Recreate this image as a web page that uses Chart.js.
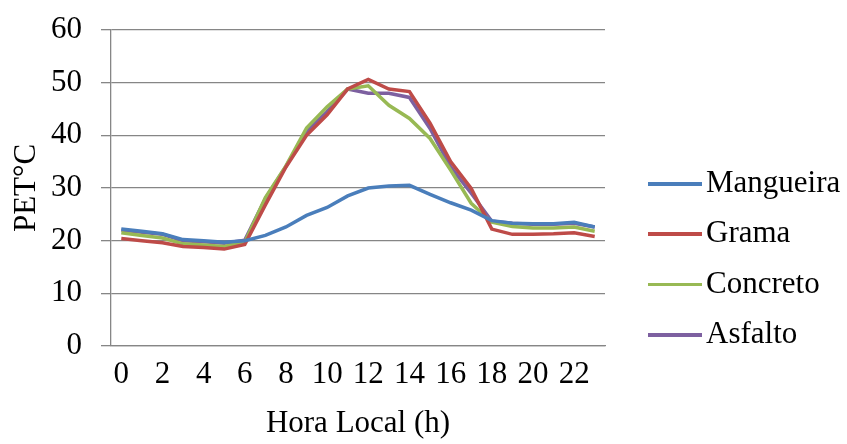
<!DOCTYPE html>
<html>
<head>
<meta charset="utf-8">
<script src="https://cdn.jsdelivr.net/npm/chart.js@4/dist/chart.umd.min.js"></script>
<style>
    html, body { margin: 0; padding: 0; background: #fff; }
    .wrap { position: relative; width: 847px; height: 444px; }
    .legend { position: absolute; left: 648px; top: 157px; font-family: "Liberation Serif", serif; font-size: 31px; color: #000; }
    .legend div { height: 50.3px; line-height: 50px; white-space: nowrap; }
    .legend i { display: inline-block; width: 54px; height: 3.5px; vertical-align: middle; margin-right: 4px; position: relative; top: -1px; }
</style>
</head>
<body>
<div class="wrap">
    <canvas id="chart" width="847" height="444"></canvas>
    <div class="legend"></div>
</div>
<script>
const hours = [0, 1, 2, 3, 4, 5, 6, 7, 8, 9, 10, 11, 12, 13, 14, 15, 16, 17, 18, 19, 20, 21, 22, 23];
const seriesNames = ["Mangueira", "Grama", "Concreto", "Asfalto"];
const colors = ["#4A7EBB", "#BE4B48", "#98B954", "#7D60A0"];

const mangueira = [22.2, 21.8, 21.3, 20.2, 20.0, 19.7, 20.0, 21.0, 22.6, 24.8, 26.3, 28.5, 30.0, 30.4, 30.5, 28.8, 27.2, 25.8, 23.8, 23.3, 23.2, 23.2, 23.5, 22.6];
const grama = [20.4, 20.0, 19.6, 18.9, 18.7, 18.4, 19.3, 26.8, 34.0, 40.0, 43.9, 48.8, 50.6, 48.8, 48.3, 42.3, 35.0, 29.9, 22.2, 21.2, 21.2, 21.3, 21.5, 20.8];
const concreto = [21.5, 21.0, 20.5, 19.4, 19.2, 18.9, 19.7, 28.2, 34.2, 41.4, 45.4, 48.8, 49.4, 45.7, 43.2, 39.4, 33.4, 27.1, 23.5, 22.7, 22.4, 22.4, 22.6, 21.8];
const asfalto = [22.0, 21.6, 21.2, 20.0, 19.8, 19.5, 20.1, 28.0, 34.1, 40.7, 44.5, 48.8, 48.0, 48.0, 47.2, 41.3, 34.0, 29.0, 23.7, 23.3, 23.1, 23.1, 23.3, 22.6];

const yMin = 0;
const yMax = 60;
const yStep = 10;

const font = { family: "'Liberation Serif', 'Times New Roman', serif", size: 31 };
const gridGray = "#868686";

const data = {
    labels: hours,
    datasets: [mangueira, grama, concreto, asfalto].map((values, i) => ({
        label: seriesNames[i],
        data: values,
        borderColor: colors[i],
        backgroundColor: colors[i],
        borderWidth: 3.5,
        pointRadius: 0,
        tension: 0,
    })),
};

const config = {
    type: "line",
    data: data,
    options: {
        responsive: false,
        animation: false,
        layout: { padding: { left: 0, right: 242, top: 30, bottom: 0 } },
        plugins: {
            legend: { display: false },
            tooltip: { enabled: false },
        },
        scales: {
            x: {
                offset: true,
                afterFit: (scale) => { scale.height = 98; },
                grid: { display: false, drawTicks: false },
                border: { display: true, color: gridGray, width: 1.3 },
                ticks: {
                    color: "#000",
                    font: font,
                    padding: 10.4,
                    maxRotation: 0,
                    autoSkip: false,
                    callback: (value, index) => (index % 2 === 0 ? hours[index] : ""),
                },
                title: { display: true, text: "Hora Local (h)", color: "#000", font: font, padding: { top: 0, bottom: 2 } },
            },
            y: {
                min: yMin,
                max: yMax,
                afterFit: (scale) => {
                    scale.width = 111;
                    scale.paddingTop = 0;
                    scale.paddingBottom = 0;
                },
                grid: { color: gridGray, lineWidth: 1.3, tickLength: 10 },
                border: { display: true, color: gridGray, width: 1.3 },
                ticks: { stepSize: yStep, color: "#000", font: font, padding: 19 },
                title: { display: true, text: "PET°C", color: "#000", font: font, padding: { top: 8.4, bottom: 0 } },
            },
        },
    },
};

const chartD = document.getElementById("chart");
const myChart = new Chart(chartD, config);

const createLegend = (data) => {
    if (!data) return;
    const legendArea = document.querySelector(".legend");
    data.datasets.forEach((ds) => {
        const div = document.createElement("div");
        const i = document.createElement("i");
        i.style.backgroundColor = ds.borderColor;
        div.append(i, ds.label);
        legendArea.append(div);
    });
};
createLegend(data);
</script>
</body>
</html>
